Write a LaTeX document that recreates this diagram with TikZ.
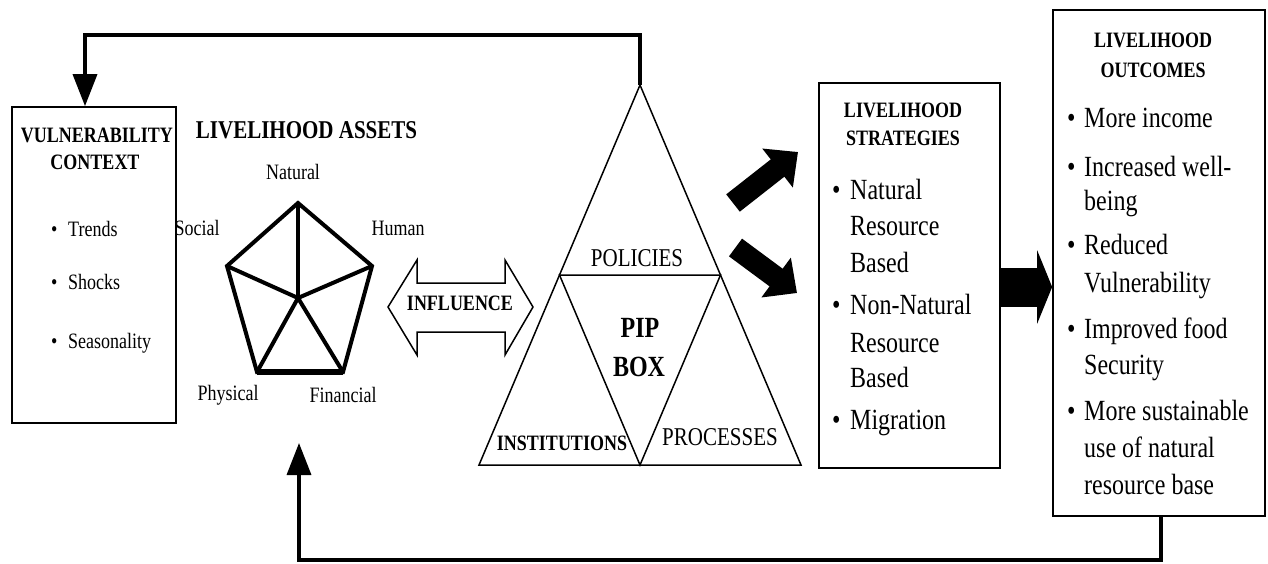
\documentclass[tikz,border=0pt]{standalone}
\usepackage{fontspec}
\setmainfont{Liberation Serif}
\usetikzlibrary{arrows.meta}
\newcommand\fsS{\fontsize{18}{21}\selectfont}
\newcommand\fsM{\fontsize{21}{25}\selectfont}
\newcommand\fsL{\fontsize{24}{28}\selectfont}
\newcommand\vs[1]{\scalebox{1}[1.22]{#1}}
\begin{document}
\begin{tikzpicture}[x=1pt,y=-1pt,
  box/.style={draw, line width=1.7pt, inner sep=0pt},
  txt/.style={inner sep=0pt, anchor=base west},
  ctr/.style={inner sep=0pt, anchor=center},
  fb/.style={line width=3.5pt, -{Triangle[length=32pt,width=24pt]}},
  fat/.style={line width=22pt, -{Triangle[length=26pt,width=48pt]}},
  pent/.style={line width=4pt},
  tri/.style={line width=1.5pt, line join=miter}]
\useasboundingbox (0,0) rectangle (1268,563);

% Vulnerability box
\node[box, minimum width=164pt, minimum height=316pt] (vul) at (94,265) {};
\node[ctr, font=\fsS\bfseries] (vt1) at (97,135) {\vs{VULNERABILITY}};
\node[ctr, font=\fsS\bfseries] (vt2) at (95,162) {\vs{CONTEXT}};
\node[txt, font=\fsS] (vb1) at (51,236) {\vs{\textbullet}};
\node[txt, font=\fsS] (vi1) at (68,236) {\vs{Trends}};
\node[txt, font=\fsS] (vb2) at (51,289) {\vs{\textbullet}};
\node[txt, font=\fsS] (vi2) at (68,289) {\vs{Shocks}};
\node[txt, font=\fsS] (vb3) at (51,348) {\vs{\textbullet}};
\node[txt, font=\fsS] (vi3) at (68,348) {\vs{Seasonality}};

% Livelihood assets
\node[ctr, font=\fsM\bfseries] (lat) at (306.5,130) {\vs{LIVELIHOOD ASSETS}};
\coordinate (pN) at (298,203);
\coordinate (pH) at (372,266);
\coordinate (pF) at (343,372);
\coordinate (pP) at (257,372);
\coordinate (pS) at (227,266);
\coordinate (pC) at (298,298);
\draw[pent] (pN) -- (pH) -- (pF) -- (pP) -- (pS) -- cycle;
\draw[line width=5.5pt] (pP) -- (pF);
\foreach \v in {pN,pH,pF,pP,pS} \draw[pent] (pC) -- (\v);
\node[ctr, font=\fsS] (lN) at (293,172) {\vs{Natural}};
\node[ctr, font=\fsS] (lS) at (197,228) {\vs{Social}};
\node[ctr, font=\fsS] (lH) at (398,228) {\vs{Human}};
\node[ctr, font=\fsS] (lP) at (228,395) {\vs{Physical}};
\node[ctr, font=\fsS] (lF) at (343,395) {\vs{Financial}};

% Influence double arrow
\draw[line width=1.5pt, line join=miter] (388,307) -- (417,260) -- (417,283) -- (505,283) -- (505,260) -- (533,307)
  -- (505,355) -- (505,332) -- (417,332) -- (417,355) -- cycle;
\node[ctr, font=\fsS\bfseries] (infl) at (460,303) {\vs{INFLUENCE}};

% PIP triangle
\coordinate (tA) at (640,85);
\coordinate (tBL) at (479,465);
\coordinate (tBR) at (801,465);
\coordinate (tML) at (559.5,275);
\coordinate (tMR) at (720.5,275);
\coordinate (tMB) at (640,465);
\draw[tri] (tA) -- (tBL) -- (tBR) -- cycle;
\draw[tri] (tML) -- (tMR) -- (tMB) -- cycle;
\node[ctr, font=\fsM] (pol) at (637,258) {\vs{POLICIES}};
\node[ctr, font=\fsL\bfseries] (pip) at (640,328) {\vs{PIP}};
\node[ctr, font=\fsL\bfseries] (pbox) at (639,367) {\vs{BOX}};
\node[ctr, font=\fsS\bfseries] (inst) at (562,443) {\vs{INSTITUTIONS}};
\node[ctr, font=\fsM] (proc) at (720,437) {\vs{PROCESSES}};

% Fat arrows to strategies
\coordinate (u1) at (733,203);
\coordinate (u2) at (798,152);
\coordinate (l1) at (735.5,247.5);
\coordinate (l2) at (797,293);
\draw[fat] (u1) -- (u2);
\draw[fat] (l1) -- (l2);

% Strategies box
\node[box, minimum width=181pt, minimum height=385pt] (strat) at (909.5,275.5) {};
\node[ctr, font=\fsS\bfseries] (st1) at (903,110) {\vs{LIVELIHOOD}};
\node[ctr, font=\fsS\bfseries] (st2) at (903,138) {\vs{STRATEGIES}};
\foreach \t/\y/\b [count=\i] in {Natural/199/1, Resource/235/0, Based/272/0, Non-Natural/314/1, Resource/352/0, Based/387/0, Migration/429/1}{
  \node[txt, font=\fsL] (sl\i) at (850,\y) {\vs{\t}};
  \ifnum\b=1 \node[txt, font=\fsL] (sb\i) at (832,\y) {\vs{\textbullet}};\fi
}

% Big arrow to outcomes
\coordinate (bigA) at ([yshift=-11.5pt]strat.east);
\node[box, minimum width=212pt, minimum height=506pt] (out) at (1159,263) {};
\draw[line width=39pt, -{Triangle[length=15pt,width=73pt]}] (bigA) -- (bigA -| out.west);

% Outcomes box
\node[ctr, font=\fsS\bfseries] (ot1) at (1153,40) {\vs{LIVELIHOOD}};
\node[ctr, font=\fsS\bfseries] (ot2) at (1153,70) {\vs{OUTCOMES}};
\foreach \t/\y/\b [count=\i] in {More income/127/1, Increased well-/176/1, being/210/0, Reduced/254/1, Vulnerability/292/0, Improved food/338/1, Security/374/0, More sustainable/420/1, use of natural/457/0, resource base/494/0}{
  \node[txt, font=\fsL] (ol\i) at (1084,\y) {\vs{\t}};
  \ifnum\b=1 \node[txt, font=\fsL] (ob\i) at (1067,\y) {\vs{\textbullet}};\fi
}

% Feedback arrows
\draw[fb, line join=miter] (tA) -- ++(0,-50) -| ([xshift=-9pt]vul.north);
\coordinate (assetsIn) at (299,443);
\draw[fb, line join=miter] ([xshift=2pt]out.south) -- ++(0,43) -| (assetsIn);
\end{tikzpicture}
\end{document}
